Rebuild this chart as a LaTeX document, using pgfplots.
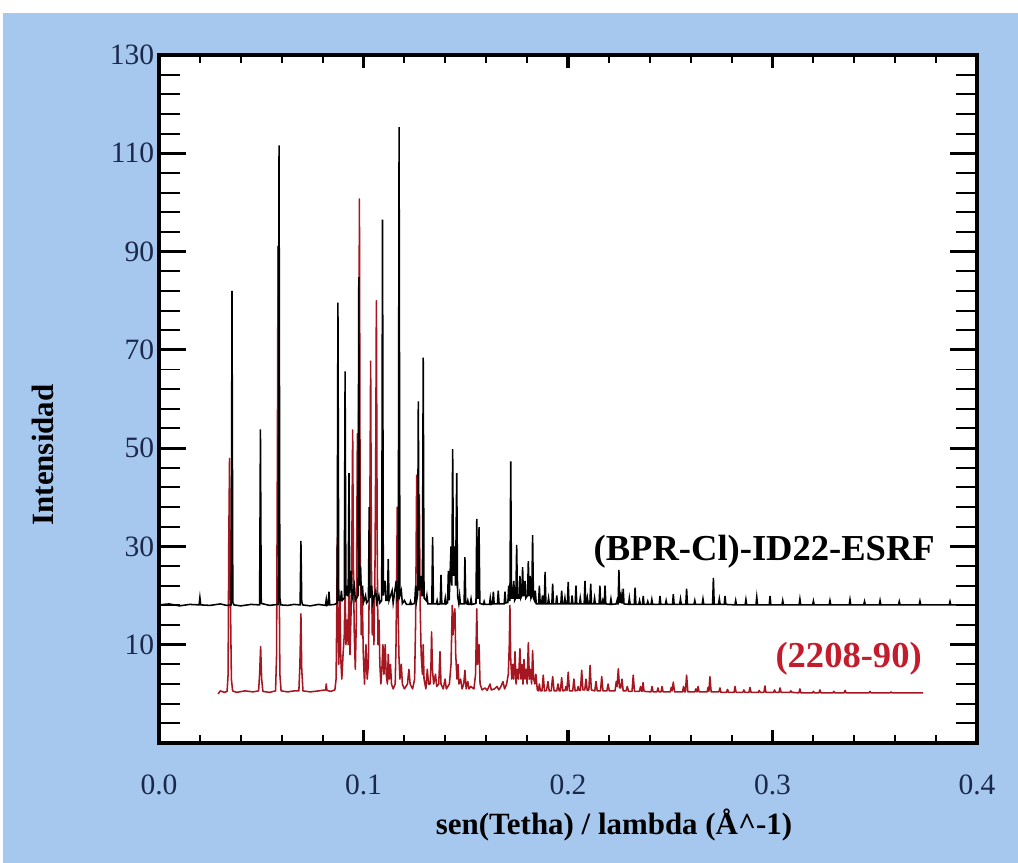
\documentclass[border=0pt]{standalone}
\usepackage{fontspec}
\setmainfont{Liberation Serif}
\usepackage{pgfplots}
\pgfplotsset{compat=1.18}

\definecolor{bgblue}{RGB}{166,200,238}
\definecolor{navy}{RGB}{28,40,75}
\definecolor{rojo}{RGB}{196,28,44}
\definecolor{rojol}{RGB}{165,22,32}

\pgfplotsset{
  frame/.style={
    at={(3.975cm,3.0cm)}, anchor=south west,
    scale only axis, width=20.45cm, height=17.2cm,
    xmin=0, xmax=0.4, ymin=-10, ymax=130,
    axis line style={line width=2.2pt},
    tick align=inside,
    tick style={black, line width=1.4pt},
    major tick style={line width=2.2pt},
    ticklabel style={font=\fontsize{21}{25}\selectfont, text=navy},
    /pgf/number format/assume math mode=true,
  }
}

\begin{document}
\begin{tikzpicture}
\useasboundingbox (0,0) rectangle (25.45cm,21.575cm);
\fill[white] (0,0) rectangle (25.45cm,21.575cm);
\fill[bgblue] (0.075cm,0) rectangle (25.45cm,21.25cm);

% y ticks (long ones)
\begin{axis}[frame,
    axis background/.style={fill=white},
    xtick=\empty,
    ytick={-10,10,30,50,70,90,110,130},
    yticklabels={,10,30,50,70,90,110,130},
    minor y tick num=4,
    major tick length=0.68cm, minor tick length=0.52cm]
\end{axis}

% data + x ticks
\begin{axis}[frame,
    ytick=\empty,
    xtick={0,0.1,0.2,0.3,0.4},
    xticklabels={0.0,0.1,0.2,0.3,0.4},
    minor x tick num=4,
    major tick length=0.32cm, minor tick length=0.2cm,
    xticklabel style={yshift=-0.67cm}]

% (2208-90)
\addplot[rojol, line width=1.1pt, line join=round] coordinates {
(0.0289,0.0)(0.0300,0.6)(0.0320,0.3)(0.0333,0.5)(0.0338,4)(0.0341,30)(0.0345,47.9)(0.0349,20)(0.0354,3)(0.0360,0.6)
(0.0380,0.3)(0.0420,0.6)(0.0460,0.4)(0.0487,0.6)(0.0492,4)(0.0497,9.6)(0.0502,3)(0.0508,0.5)(0.0540,0.3)
(0.0570,0.6)(0.0575,8)(0.0579,50)(0.0582,91.1)(0.0586,35)(0.0591,4)(0.0597,0.6)(0.0630,0.4)(0.0660,0.6)
(0.0684,0.6)(0.0689,6)(0.0691,10)(0.0694,16.3)(0.0698,5)(0.0704,0.6)(0.0740,0.4)(0.0780,0.6)
(0.0815,0.8)(0.0818,2.0)(0.0821,0.7)(0.0840,0.5)(0.0860,0.8)
(0.0866,3)(0.0869,15)(0.0872,31.8)(0.0876,12)(0.0879,6)(0.0885,20)(0.0889,7)(0.0894,3)(0.0900,8)(0.0906,12)
(0.0910,22)(0.0914,10)(0.0920,15)(0.0925,10)(0.0929,24)(0.0934,8)(0.0940,18)(0.0943,30)(0.0947,53.7)(0.0951,25)
(0.0955,12)(0.0960,5)(0.0965,15)(0.0970,52.9)(0.0973,30)(0.0976,45)(0.0980,100.7)(0.0984,30)(0.0989,12)(0.0994,20)
(0.0999,8)(0.1005,2)(0.1012,10)(0.1018,3)(0.1024,6)(0.1030,30)(0.1035,67.7)(0.1039,25)(0.1043,12)(0.1047,20)
(0.1051,10)(0.1056,25)(0.1060,50)(0.1063,80.0)(0.1067,30)(0.1071,10)(0.1076,15)(0.1080,6)(0.1085,2)(0.1090,5)
(0.1095,10)(0.1100,4)(0.1106,10)(0.1111,4)(0.1117,2)(0.1121,8)(0.1126,3)(0.1132,6)(0.1137,2)(0.1145,1)
(0.1155,2)(0.1159,10)(0.1162,22)(0.1165,38.0)(0.1169,18)(0.1173,8)(0.1178,3)(0.1185,6)(0.1190,2)(0.1200,1)
(0.1215,2)(0.1222,5)(0.1228,2)(0.1240,1)(0.1250,3)(0.1255,15)(0.1260,44.5)(0.1264,30)(0.1268,35)(0.1273,40.5)
(0.1277,18)(0.1282,8)(0.1288,4)(0.1292,10)(0.1296,3)(0.1305,1)(0.1312,5)(0.1318,2)(0.1326,2)(0.1330,6)
(0.1333,12.6)(0.1337,5)(0.1343,2)(0.1352,4)(0.1358,1.5)(0.1368,2)(0.1374,8.6)(0.1379,2)(0.1390,1)(0.1399,3)
(0.1405,1)(0.1420,2)(0.1428,6)(0.1432,14)(0.1434,18.0)(0.1438,12)(0.1442,16)(0.1447,17.3)(0.1451,8)(0.1457,3)
(0.1462,6)(0.1467,2)(0.1475,3)(0.1482,1)(0.1490,2)(0.1496,4.8)(0.1502,1)(0.1510,2.5)(0.1516,1)(0.1525,1.5)
(0.1540,1)(0.1548,4)(0.1554,17.3)(0.1558,6)(0.1565,10)(0.1570,2)(0.1580,0.8)(0.1594,1.2)(0.1605,0.7)(0.1619,2)
(0.1625,0.8)(0.1640,1.0)(0.1653,1.5)(0.1662,0.8)(0.1672,1.5)(0.1682,2.5)(0.1690,1)(0.1700,2)(0.1708,4)(0.1713,10)
(0.1716,18.0)(0.1720,7)(0.1725,3)(0.1730,6)(0.1735,3)(0.1741,8.6)(0.1746,2)(0.1752,5)(0.1758,3)(0.1765,9.2)
(0.1770,3)(0.1775,6)(0.1780,2)(0.1785,7)(0.1790,3)(0.1796,5)(0.1800,2)(0.1806,10.4)(0.1811,3)(0.1817,5)
(0.1822,2)(0.1827,8.8)(0.1832,3)(0.1838,2)(0.1843,4)
(0.1850,0.8)(0.1855,0.6)(0.1860,2)(0.1865,0.6)(0.1873,0.6)(0.1879,3.8)(0.1885,0.6)(0.1895,0.7)(0.1902,2.5)(0.1908,0.6)
(0.1918,0.6)(0.1925,3.5)(0.1932,0.6)(0.1945,0.6)(0.1951,2)(0.1957,0.6)(0.1963,0.6)(0.1969,3.3)(0.1975,0.6)(0.1985,0.7)
(0.1990,1.5)(0.1995,0.7)(0.2001,4.4)(0.2007,0.6)(0.2023,0.6)(0.2029,3)(0.2035,0.6)(0.2045,0.7)(0.2050,1.5)(0.2055,0.7)
(0.2061,0.7)(0.2067,4.8)(0.2073,0.8)(0.2082,0.8)(0.2088,3)(0.2094,0.7)(0.2102,0.8)(0.2108,5.8)(0.2114,0.8)(0.2131,0.6)
(0.2137,2.5)(0.2143,0.6)(0.2159,0.6)(0.2165,3.5)(0.2171,0.6)(0.2190,0.6)(0.2196,2)(0.2202,0.6)(0.2230,0.6)(0.2236,2.5)
(0.2240,1.5)(0.2246,5.1)(0.2252,1.2)(0.2258,1.2)(0.2264,3)(0.2270,0.6)(0.2284,0.6)(0.2290,1.5)(0.2296,0.5)(0.2313,0.5)
(0.2319,3.8)(0.2325,0.5)(0.2349,0.5)(0.2355,1.5)(0.2360,0.5)(0.2362,0.5)(0.2367,2.3)(0.2372,0.5)(0.2406,0.4)(0.2411,1.5)
(0.2416,0.4)(0.2435,0.4)(0.2440,1.2)(0.2445,0.4)(0.2455,0.4)(0.2460,1.5)(0.2465,0.4)(0.2500,0.4)(0.2505,1.3)(0.2509,0.6)
(0.2515,2.4)(0.2521,0.4)(0.2560,0.4)(0.2565,1.5)(0.2570,0.4)(0.2574,0.4)(0.2580,3.8)(0.2586,0.4)(0.2620,0.4)(0.2625,1.0)
(0.2630,0.4)(0.2631,0.4)(0.2636,1.5)(0.2641,0.4)(0.2680,0.4)(0.2685,1.3)(0.2689,0.5)(0.2694,3.5)(0.2700,0.4)(0.2738,0.4)
(0.2743,1.2)(0.2748,0.3)(0.2775,0.3)(0.2780,0.9)(0.2785,0.3)(0.2812,0.3)(0.2817,1.5)(0.2822,0.3)(0.2855,0.3)(0.2860,0.8)
(0.2865,0.3)(0.2885,0.3)(0.2890,1.3)(0.2895,0.3)(0.2930,0.3)(0.2935,0.7)(0.2940,0.3)(0.2958,0.3)(0.2963,1.6)(0.2968,0.3)
(0.3005,0.3)(0.3010,0.8)(0.3015,0.3)(0.3032,0.3)(0.3037,1.2)(0.3042,0.3)(0.3085,0.3)(0.3090,0.6)(0.3095,0.3)(0.3129,0.2)
(0.3134,1.0)(0.3139,0.2)(0.3195,0.2)(0.3200,0.5)(0.3205,0.2)(0.3227,0.2)(0.3232,0.8)(0.3237,0.2)(0.3295,0.2)(0.3300,0.5)
(0.3305,0.2)(0.3350,0.2)(0.3355,0.7)(0.3360,0.2)(0.3472,0.2)(0.3477,0.5)(0.3482,0.2)(0.3575,0.2)(0.3580,0.4)(0.3585,0.2)
(0.3736,0.2)
};

% (BPR-Cl)-ID22-ESRF
\addplot[black, line width=1.1pt] coordinates {
(0.0000,18.1)(0.0050,18.3)(0.0100,17.9)(0.0150,18.2)(0.0196,18.1)(0.0200,19.6)(0.0204,18.1)(0.0250,18.0)(0.0300,18.3)(0.0330,18.0)
(0.0353,18.1)(0.0357,82.0)(0.0361,18.6)(0.0366,18.1)(0.0400,17.9)(0.0450,18.2)(0.0492,18.1)(0.0496,53.8)(0.0500,18.4)(0.0540,18.0)
(0.0583,18.2)(0.0587,111.6)(0.0591,19.5)(0.0596,18.1)(0.0630,18.0)(0.0660,18.2)(0.0690,18.1)(0.0694,31.1)(0.0698,18.8)(0.0702,18.1)
(0.0740,17.9)(0.0780,18.2)(0.0814,18.0)(0.0818,19.2)(0.0822,18.0)(0.0827,18.1)(0.0831,20.8)(0.0835,18.1)(0.0860,18.2)(0.0871,18.5)
(0.0875,79.6)(0.0879,19)(0.0888,19)(0.0892,21)(0.0896,19)(0.0906,19.5)(0.0910,65.6)(0.0914,20)(0.0918,22)(0.0922,20)
(0.0925,20)(0.0929,44.9)(0.0933,20.5)(0.0940,25)(0.0945,19.5)(0.0955,22)(0.0960,19)(0.0973,20)(0.0977,84.8)(0.0981,22)
(0.0985,26)(0.0990,20)(0.0995,22)(0.1000,18.6)(0.1010,20)(0.1015,18.5)(0.1024,19)(0.1028,38.0)(0.1032,19.5)(0.1040,22)
(0.1045,18.5)(0.1060,21)(0.1065,18.5)(0.1075,20)(0.1080,18.5)(0.1089,19)(0.1093,96.5)(0.1097,20)(0.1105,23)(0.1110,19)
(0.1117,19)(0.1121,27.4)(0.1125,19)(0.1140,21)(0.1145,18.5)(0.1160,23)(0.1165,19)(0.1170,19.5)(0.1174,115.3)(0.1178,20)
(0.1185,21)(0.1190,18.4)(0.1200,19)(0.1210,18.2)(0.1226,18.2)(0.1230,18.8)(0.1234,18.2)(0.1250,18.4)(0.1255,22)(0.1260,19)(0.1264,20)(0.1268,59.5)
(0.1272,21)(0.1280,24)(0.1285,20)(0.1288,20)(0.1292,68.4)(0.1296,19.5)(0.1306,19)(0.1310,20)(0.1315,18.3)(0.1334,18.3)(0.1338,31.9)
(0.1342,18.3)(0.1356,18.3)(0.1360,19)(0.1364,18.2)(0.1375,18.3)(0.1379,24.2)(0.1383,18.3)(0.1396,18.3)(0.1400,19.5)(0.1404,18.3)(0.1411,18.5)(0.1415,25.0)
(0.1419,19)(0.1428,30)(0.1432,22)(0.1436,49.8)(0.1440,24)(0.1446,30)(0.1450,22)(0.1456,44.9)
(0.1460,20)(0.1466,18.4)(0.1470,20)(0.1474,18.3)(0.1492,18.3)(0.1496,27.8)(0.1500,18.4)(0.1506,18.3)(0.1510,19)(0.1514,18.2)
(0.1522,18.2)(0.1526,19.3)(0.1530,18.2)(0.1550,18.4)(0.1554,35.6)(0.1558,19.5)(0.1561,19.5)(0.1565,33.9)(0.1569,18.4)(0.1586,18.2)
(0.1590,18.8)(0.1594,18.2)(0.1616,18.2)(0.1620,19.5)(0.1624,18.2)(0.1631,18.3)(0.1635,20.8)(0.1639,18.3)(0.1655,18.3)(0.1659,21.0)
(0.1663,18.3)(0.1688,18.3)(0.1692,20.8)(0.1696,18.5)(0.1706,18.6)(0.1710,22)(0.1714,19)(0.1716,19)(0.1720,47.3)(0.1724,19.5)
(0.1731,19.5)(0.1735,23)(0.1739,19)(0.1745,19.5)(0.1749,30.3)(0.1753,19.5)(0.1761,19.5)(0.1765,24)(0.1769,19.5)(0.1774,20)
(0.1778,25.8)(0.1782,20)(0.1786,20)(0.1790,23)(0.1794,19.5)(0.1802,20)(0.1806,27.0)(0.1810,20)(0.1812,20)(0.1815,24)
(0.1819,19.5)(0.1823,20)(0.1827,32.3)(0.1831,19.5)(0.1836,19)(0.1840,21)(0.1845,18.3)
(0.1856,18.3)(0.1860,22.0)(0.1864,18.3)(0.1871,18.3)(0.1875,20)(0.1879,18.3)(0.1884,18.3)(0.1888,24.8)(0.1892,18.3)(0.1901,18.3)
(0.1905,19.5)(0.1909,18.3)(0.1921,18.3)(0.1925,22.4)(0.1929,18.3)(0.1941,18.3)(0.1945,20)(0.1949,18.3)(0.1965,18.3)(0.1969,21.0)
(0.1973,18.3)(0.1981,18.3)(0.1985,19.5)(0.1989,18.3)(0.1997,18.3)(0.2001,22.8)(0.2005,18.3)(0.2016,18.3)(0.2020,20)(0.2024,18.3)
(0.2035,18.3)(0.2039,22.0)(0.2043,18.3)(0.2056,18.3)(0.2060,19.5)(0.2064,18.3)(0.2079,18.3)(0.2083,23.0)(0.2087,18.3)(0.2091,18.3)
(0.2095,19.5)(0.2099,18.3)(0.2107,18.3)(0.2111,22.4)(0.2115,18.3)(0.2126,18.3)(0.2130,19.5)(0.2134,18.3)(0.2152,18.3)(0.2156,22.0)
(0.2160,18.3)(0.2166,18.3)(0.2170,19)(0.2174,18.3)(0.2177,18.3)(0.2181,22.0)(0.2185,18.3)(0.2206,18.2)(0.2210,19.3)(0.2214,18.2)
(0.2236,18.3)(0.2240,19)(0.2244,18.3)(0.2245,18.3)(0.2249,25.2)(0.2253,18.6)(0.2256,18.6)(0.2260,20)(0.2264,18.5)(0.2266,18.5)
(0.2270,21.4)(0.2274,18.3)(0.2296,18.2)(0.2300,19.5)(0.2304,18.2)(0.2324,18.2)(0.2328,21.6)(0.2332,18.2)(0.2346,18.2)(0.2350,19)
(0.2354,18.2)(0.2364,18.2)(0.2368,19.9)(0.2372,18.2)(0.2386,18.2)(0.2390,18.8)(0.2394,18.2)(0.2406,18.2)(0.2410,19.2)(0.2414,18.2)
(0.2446,18.2)(0.2450,19.9)(0.2454,18.2)(0.2476,18.2)(0.2480,19.0)(0.2484,18.2)(0.2511,18.2)(0.2515,20.3)(0.2519,18.2)(0.2546,18.2)
(0.2550,19.3)(0.2554,18.2)(0.2576,18.2)(0.2580,21.4)(0.2584,18.2)(0.2616,18.2)(0.2620,19.0)(0.2624,18.2)(0.2656,18.2)(0.2660,19.3)
(0.2664,18.2)(0.2707,18.2)(0.2711,23.6)(0.2715,18.2)(0.2736,18.2)(0.2740,19.3)(0.2744,18.2)(0.2764,18.2)(0.2768,19.9)(0.2772,18.2)
(0.2816,18.1)(0.2820,19.0)(0.2824,18.1)(0.2866,18.1)(0.2870,19.2)(0.2874,18.1)(0.2919,18.1)(0.2923,19.7)(0.2927,18.1)(0.2984,18.1)
(0.2988,19.9)(0.2992,18.1)(0.3046,18.1)(0.3050,19.0)(0.3054,18.1)(0.3130,18.1)(0.3134,19.3)(0.3138,18.1)(0.3196,18.1)(0.3200,18.9)
(0.3204,18.1)(0.3277,18.1)(0.3281,19.0)(0.3285,18.1)(0.3375,18.1)(0.3379,19.2)(0.3383,18.1)(0.3446,18.1)(0.3450,18.8)(0.3454,18.1)
(0.3522,18.1)(0.3526,19.0)(0.3530,18.1)(0.3616,18.1)(0.3620,18.8)(0.3624,18.1)(0.3717,18.1)(0.3721,18.9)(0.3725,18.1)(0.3864,18.1)
(0.3868,18.8)(0.3872,18.1)(0.4000,18.1)
};

\node[anchor=east, inner sep=0pt, font=\fontsize{26}{30}\selectfont\bfseries]
  at (axis cs:0.3795,28.9) {(BPR-Cl)-ID22-ESRF};
\node[anchor=east, inner sep=0pt, text=rojo, font=\fontsize{26}{30}\selectfont\bfseries]
  at (axis cs:0.3731,7.2) {(2208-90)};
\end{axis}

\node[font=\fontsize{22}{26}\selectfont\bfseries] at (15.35cm,0.95cm)
  {sen(Tetha) / lambda (Å\textasciicircum-1)};
\node[rotate=90, font=\fontsize{22}{26}\selectfont\bfseries] at (1.075cm,10.2cm)
  {Intensidad};
\end{tikzpicture}
\end{document}
